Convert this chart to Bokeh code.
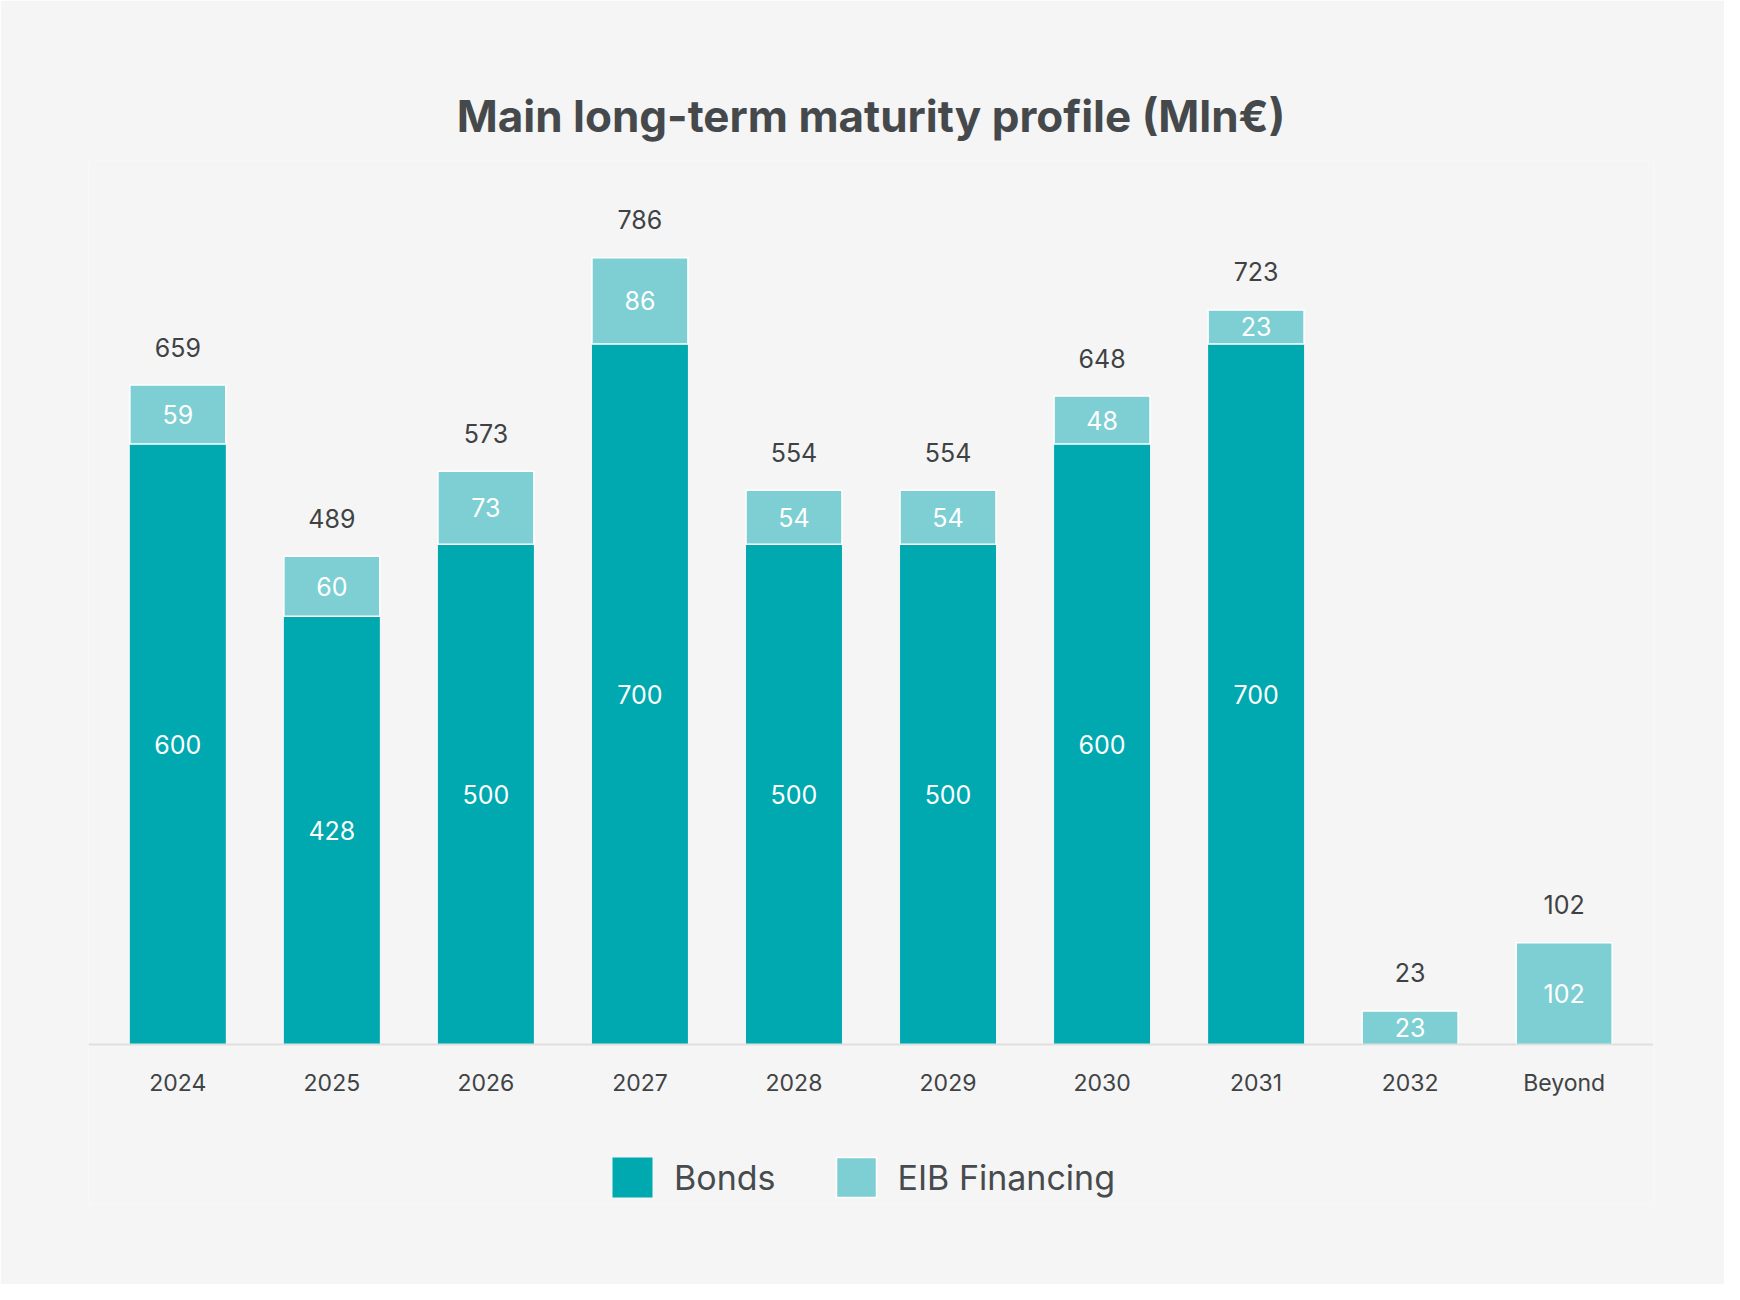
from bokeh.plotting import figure
from bokeh.models import ColumnDataSource, FactorRange, Range1d, Legend, LegendItem
from bokeh.core.properties import value
from bokeh.embed import file_html
from bokeh.resources import INLINE

years = ["2024", "2025", "2026", "2027", "2028", "2029", "2030", "2031", "2032", "Beyond"]
bonds = [600, 428, 500, 700, 500, 500, 600, 700, 0, 0]
eib = [59, 60, 73, 86, 54, 54, 48, 23, 23, 102]
totals = [659, 489, 573, 786, 554, 554, 648, 723, 23, 102]

BOND_COL = "#00a9b0"
EIB_COL = "#7dcfd3"
BG = "#f4f5f4"
TXT = "#3f4244"
FONT = "Inter"
MIN_SEG = 34  # minimum drawn height of a segment so that its label fits (as in the original)

eib_disp = [max(e, MIN_SEG) if e else 0 for e in eib]

src = ColumnDataSource(dict(
    year=years, bonds=bonds, eib=eib, totals=totals,
    eib_bottom=bonds,
    eib_top=[b + e for b, e in zip(bonds, eib_disp)],
    bonds_mid=[b / 2 for b in bonds],
    eib_mid=[b + e / 2 for b, e in zip(bonds, eib_disp)],
    bonds_lbl=[str(b) if b else "" for b in bonds],
    eib_lbl=[str(e) for e in eib],
    tot_lbl=[str(t) for t in totals],
))

p = figure(
    x_range=FactorRange(factors=years, range_padding=0.08, range_padding_units="absolute"),
    y_range=Range1d(-159.3, 883.2),
    width=1724, height=1284,
    output_backend="svg", toolbar_location=None,
    min_border_left=88, min_border_right=71, min_border_top=160, min_border_bottom=80,
    background_fill_color=BG, border_fill_color=BG, outline_line_color=None,
    y_axis_location=None,
)

p.title.text = "Main long-term maturity profile (Mln€)"
p.title.align = "center"
p.title.text_font = FONT
p.title.text_font_size = "44px"
p.title.text_font_style = "bold"
p.title.text_color = "#46494b"
p.title.standoff = 35

r_b = p.vbar(x="year", top="bonds", bottom=0, width=0.623, source=src,
             fill_color=BOND_COL, line_color=None)
r_e = p.vbar(x="year", top="eib_top", bottom="eib_bottom", width=0.623, source=src,
             fill_color=EIB_COL, line_color="white", line_width=1.5)

p.text(x="year", y="bonds_mid", text="bonds_lbl", source=src,
       text_align="center", text_baseline="middle", text_color="white",
       text_font=value(FONT), text_font_size="25px")
p.text(x="year", y="eib_mid", text="eib_lbl", source=src,
       text_align="center", text_baseline="middle", text_color="white",
       text_font=value(FONT), text_font_size="25px")
p.text(x="year", y="eib_top", text="tot_lbl", source=src, y_offset=-38,
       text_align="center", text_baseline="alphabetic", text_color=TXT,
       text_font=value(FONT), text_font_size="25px")

p.xgrid.grid_line_color = None
p.ygrid.grid_line_color = None
ax = p.xaxis[0]
ax.fixed_location = 0
ax.axis_line_color = "#dedfde"
ax.axis_line_width = 2
ax.major_tick_line_color = None
ax.minor_tick_line_color = None
ax.major_tick_out = 0
ax.major_tick_in = 0
ax.major_label_standoff = 24
ax.major_label_text_font = FONT
ax.major_label_text_font_size = "23px"
ax.major_label_text_color = "#404345"

legend = Legend(
    items=[LegendItem(label="Bonds", renderers=[r_b]),
           LegendItem(label="EIB Financing", renderers=[r_e])],
    orientation="horizontal", location=(519, 2),
    glyph_width=50, glyph_height=50, label_standoff=17, spacing=55,
    label_text_font=FONT, label_text_font_size="34px", label_text_color="#484b4d",
    background_fill_alpha=0, border_line_alpha=0, padding=0, margin=0,
)
p.add_layout(legend, "center")

open("out.html", "w").write(file_html(p, INLINE))
